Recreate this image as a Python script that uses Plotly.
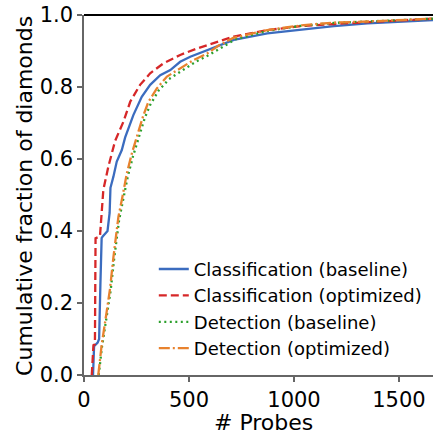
import plotly.graph_objects as go

# Classification (baseline)
cb_x = [43, 48, 65, 72, 78, 84, 89, 112, 122, 126, 140, 156, 180, 196, 235, 259, 275, 315, 363, 411, 458, 506, 570, 634, 713, 873, 1032, 1190, 1350, 1509, 1670]
cb_y = [0.0, 0.08, 0.09, 0.10, 0.25, 0.38, 0.385, 0.40, 0.45, 0.52, 0.551, 0.593, 0.625, 0.66, 0.722, 0.75, 0.773, 0.806, 0.833, 0.847, 0.870, 0.884, 0.898, 0.912, 0.931, 0.949, 0.960, 0.969, 0.977, 0.981, 0.986]

# Classification (optimized)
co_x = [37, 45, 52, 55, 76, 84, 92, 116, 148, 188, 220, 267, 315, 379, 458, 538, 634, 713, 873, 1032, 1190, 1350, 1509, 1670]
co_y = [0.0, 0.083, 0.085, 0.38, 0.385, 0.45, 0.514, 0.579, 0.65, 0.704, 0.759, 0.806, 0.838, 0.866, 0.889, 0.907, 0.924, 0.940, 0.958, 0.969, 0.975, 0.981, 0.985, 0.990]

# Detection (baseline)
db_x = [70, 78, 86, 110, 127, 143, 167, 184, 208, 233, 254, 290, 315, 355, 405, 468, 532, 596, 650, 720, 873, 1032, 1190, 1350, 1509, 1670]
db_y = [0.0, 0.045, 0.08, 0.17, 0.235, 0.32, 0.43, 0.48, 0.55, 0.607, 0.645, 0.715, 0.75, 0.79, 0.822, 0.847, 0.87, 0.889, 0.908, 0.932, 0.956, 0.970, 0.978, 0.982, 0.987, 0.990]

# Detection (optimized)
do_x = [68, 76, 84, 108, 124, 140, 164, 180, 204, 228, 248, 283, 307, 347, 395, 458, 522, 586, 641, 713, 873, 1032, 1190, 1350, 1509, 1670]
do_y = [0.0, 0.047, 0.083, 0.176, 0.24, 0.327, 0.44, 0.486, 0.56, 0.616, 0.653, 0.722, 0.759, 0.796, 0.829, 0.852, 0.875, 0.893, 0.915, 0.937, 0.958, 0.971, 0.979, 0.982, 0.987, 0.990]

names = ["Classification (baseline)", "Classification (optimized)",
         "Detection (baseline)", "Detection (optimized)"]
x_ticks = [0, 500, 1000, 1500]
y_ticks = [0.0, 0.2, 0.4, 0.6, 0.8, 1.0]
x_title = "# Probes"
y_title = "Cumulative fraction of diamonds"

series = [
    (cb_x, cb_y, names[0], "#3b6cbf", "solid"),
    (co_x, co_y, names[1], "#d62728", "8px,4px"),
    (db_x, db_y, names[2], "#2ca02c", "2px,3.5px"),
    (do_x, do_y, names[3], "#e8822e", "11px,3px,2px,3px"),
]

fig = go.Figure()
for i, (xs, ys, nm, col, dash) in enumerate(series):
    fig.add_trace(go.Scatter(x=xs, y=ys, mode="lines", name=nm, legendgroup=str(i),
                             line=dict(color=col, width=2.3, dash=dash)))

font = "DejaVu Sans"
fig.update_layout(
    width=433, height=432,
    margin=dict(l=84, r=0, t=15, b=57),
    paper_bgcolor="white", plot_bgcolor="white",
    font=dict(family=font, size=21, color="black"),
    showlegend=True,
    legend=dict(x=0.2, y=0.345, xanchor="left", yanchor="top",
                font=dict(family=font, size=18, color="black"),
                bgcolor="rgba(0,0,0,0)", tracegroupgap=0),
    xaxis=dict(range=[0, 1662], tickvals=x_ticks, ticks="outside", ticklen=5,
               tickcolor="#666", tickwidth=1.5, showgrid=False, zeroline=False,
               showline=True, linecolor="#666", linewidth=1.5, automargin=False),
    yaxis=dict(range=[0, 1.0], tickvals=y_ticks, tickformat=".1f", ticks="outside", ticklen=5,
               tickcolor="#666", tickwidth=1.5, showgrid=False, zeroline=False,
               showline=True, linecolor="#666", linewidth=1.5, automargin=False),
)
fig.add_annotation(text=x_title, xref="paper", yref="paper",
                   x=0.513, y=-0.131, xanchor="center", yanchor="middle",
                   showarrow=False, font=dict(family=font, size=22, color="black"))
fig.add_annotation(text=y_title, textangle=-90, xref="paper", yref="paper",
                   x=-0.1725, y=0.497, xanchor="center", yanchor="middle",
                   showarrow=False, font=dict(family=font, size=22, color="black"))
fig.add_shape(type="line", xref="paper", yref="paper", x0=0, x1=1, y0=1, y1=1,
              line=dict(color="black", width=2))

fig.write_html("out.html")
